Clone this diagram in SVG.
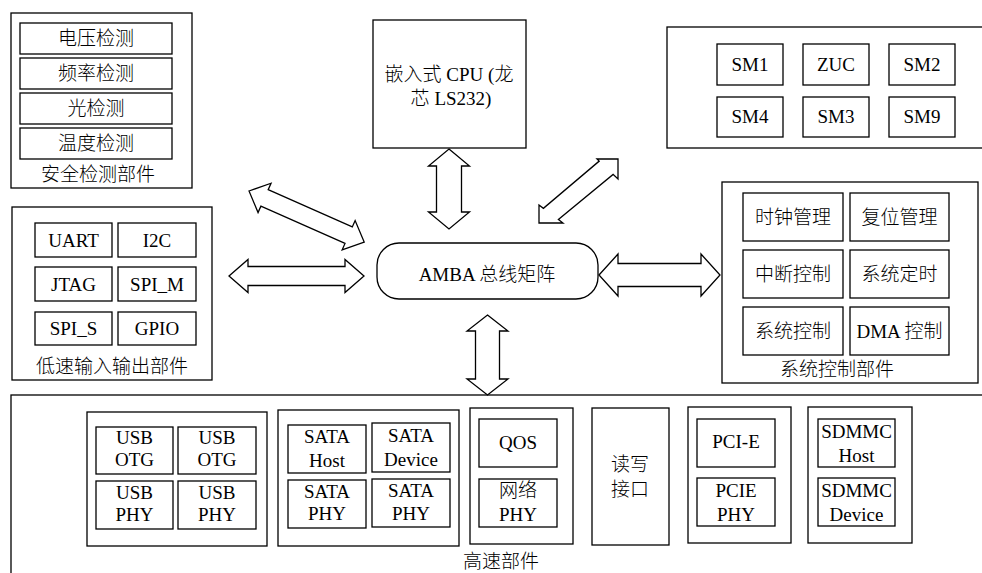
<svg xmlns="http://www.w3.org/2000/svg" width="982" height="573" viewBox="0 0 982 573">
<style>
rect{fill:#fff;stroke:#000;stroke-width:1.3}
text{font-family:"Liberation Serif","Times New Roman","DejaVu Serif",serif;font-size:19px;fill:#000;text-anchor:middle}
.c{font-family:"Noto Sans CJK SC","Noto Sans CJK JP",sans-serif;font-weight:300}
.arr{fill:#fff;stroke:#000;stroke-width:1.3;stroke-linejoin:miter}
</style>
<rect x="0" y="0" width="982" height="573" style="stroke:none"/>
<g id="safety">
<rect x="11" y="13" width="181" height="175"/>
<rect x="20" y="23" width="152" height="31"/><text x="96" y="45" class="c">电压检测</text>
<rect x="20" y="58" width="152" height="31"/><text x="96" y="80" class="c">频率检测</text>
<rect x="20" y="93" width="152" height="31"/><text x="96" y="115" class="c">光检测</text>
<rect x="20" y="128" width="152" height="31"/><text x="96" y="150" class="c">温度检测</text>
<text x="98" y="181" class="c">安全检测部件</text>
</g>
<g id="cpu">
<rect x="373" y="20" width="153" height="128"/>
<text x="449" y="81"><tspan class="c">嵌入式</tspan> CPU (<tspan class="c">龙</tspan><tspan x="451" y="105" class="c">芯</tspan> LS232)</text>
</g>
<g id="crypto">
<rect x="667" y="27" width="330" height="121"/>
<rect x="717" y="44" width="66" height="41"/><text x="750" y="71">SM1</text>
<rect x="803" y="44" width="66" height="41"/><text x="836" y="71">ZUC</text>
<rect x="889" y="44" width="66" height="41"/><text x="922" y="71">SM2</text>
<rect x="717" y="97" width="66" height="40"/><text x="750" y="123">SM4</text>
<rect x="803" y="97" width="66" height="40"/><text x="836" y="123">SM3</text>
<rect x="889" y="97" width="66" height="40"/><text x="922" y="123">SM9</text>
</g>
<g id="lowspeed">
<rect x="12" y="207" width="200" height="173"/>
<rect x="35" y="223" width="77" height="34"/><text x="73.5" y="247">UART</text>
<rect x="118" y="223" width="78" height="34"/><text x="157" y="247">I2C</text>
<rect x="35" y="267" width="77" height="34"/><text x="73.5" y="291">JTAG</text>
<rect x="118" y="267" width="78" height="34"/><text x="157" y="291">SPI_M</text>
<rect x="35" y="312" width="77" height="33"/><text x="73.5" y="335">SPI_S</text>
<rect x="118" y="312" width="78" height="33"/><text x="157" y="335">GPIO</text>
<text x="112" y="373" class="c">低速输入输出部件</text>
</g>
<g id="amba">
<rect x="377" y="243" width="221" height="56" rx="22" ry="22"/>
<text x="487" y="281">AMBA <tspan class="c">总线矩阵</tspan></text>
</g>
<g id="sysctrl">
<rect x="722" y="182" width="256" height="201"/>
<rect x="743" y="193" width="100" height="48"/><text x="793" y="224" class="c">时钟管理</text>
<rect x="850" y="193" width="99" height="48"/><text x="899.5" y="224" class="c">复位管理</text>
<rect x="743" y="250" width="100" height="48"/><text x="793" y="281" class="c">中断控制</text>
<rect x="850" y="250" width="99" height="48"/><text x="899.5" y="281" class="c">系统定时</text>
<rect x="743" y="307" width="100" height="48"/><text x="793" y="338" class="c">系统控制</text>
<rect x="850" y="307" width="99" height="48"/><text x="899.5" y="338">DMA <tspan class="c">控制</tspan></text>
<text x="837" y="376" class="c">系统控制部件</text>
</g>
<g id="highspeed">
<rect x="11" y="395" width="990" height="200"/>
<g id="usb">
<rect x="87" y="412" width="180" height="134"/>
<rect x="96" y="427" width="77" height="47"/><text x="134.5" y="444">USB</text><text x="134.5" y="466">OTG</text>
<rect x="178" y="427" width="78" height="47"/><text x="217" y="444">USB</text><text x="217" y="466">OTG</text>
<rect x="96" y="481" width="77" height="48"/><text x="134.5" y="499">USB</text><text x="134.5" y="521">PHY</text>
<rect x="178" y="481" width="78" height="48"/><text x="217" y="499">USB</text><text x="217" y="521">PHY</text>
</g>
<g id="sata">
<rect x="278" y="410" width="181" height="136"/>
<rect x="288" y="425" width="78" height="48"/><text x="327" y="443">SATA</text><text x="327" y="467">Host</text>
<rect x="372" y="423" width="78" height="49"/><text x="411" y="442">SATA</text><text x="411" y="466">Device</text>
<rect x="288" y="480" width="78" height="48"/><text x="327" y="498">SATA</text><text x="327" y="520">PHY</text>
<rect x="372" y="479" width="78" height="48"/><text x="411" y="497">SATA</text><text x="411" y="520">PHY</text>
</g>
<g id="qos">
<rect x="470" y="408" width="103" height="136"/>
<rect x="479" y="419" width="78" height="48"/><text x="518" y="449">QOS</text>
<rect x="479" y="479" width="78" height="48"/><text x="518" y="497" class="c">网络</text><text x="518" y="521">PHY</text>
</g>
<g id="rw">
<rect x="592" y="408" width="77" height="137"/>
<text x="630" y="471" class="c">读写</text><text x="630" y="496" class="c">接口</text>
</g>
<g id="pcie">
<rect x="688" y="407" width="103" height="136"/>
<rect x="697" y="419" width="78" height="48"/><text x="736" y="448">PCI-E</text>
<rect x="697" y="478" width="78" height="48"/><text x="736" y="497">PCIE</text><text x="736" y="521">PHY</text>
</g>
<g id="sdmmc">
<rect x="808" y="407" width="104" height="136"/>
<rect x="818" y="419" width="77" height="48"/><text x="856.5" y="438">SDMMC</text><text x="856.5" y="462">Host</text>
<rect x="818" y="478" width="77" height="48"/><text x="856.5" y="497">SDMMC</text><text x="856.5" y="521">Device</text>
</g>
<text x="463" y="568" class="c" style="text-anchor:start">高速部件</text>
</g>
<g id="connectors">
<polygon class="arr" transform="translate(229,276)" points="0,0 19,-16.5 19,-9.5 116,-9.5 116,-16.5 135,0 116,16.5 116,9.5 19,9.5 19,16.5"/>
<polygon class="arr" transform="translate(599,275)" points="0,0 19,-21 19,-11.5 102,-11.5 102,-21 121,0 102,21 102,11.5 19,11.5 19,21"/>
<polygon class="arr" transform="translate(449,149) rotate(90)" points="0,0 17,-20.5 17,-12.5 63,-12.5 63,-20.5 80,0 63,20.5 63,12.5 17,12.5 17,20.5"/>
<polygon class="arr" transform="translate(487.5,315) rotate(90)" points="0,0 16,-20.5 16,-12 64,-12 64,-20.5 80,0 64,20.5 64,12 16,12 16,20.5"/>
<polygon class="arr" transform="translate(249,191) rotate(23.9)" points="0,0 17,-16 17,-9 109,-9 109,-16 126,0 109,16 109,9 17,9 17,16"/>
<polygon class="arr" points="539,223 539,205 543.4,208.3 599.2,161.1 597,159 618,159 618,179 613.1,174.4 558.4,219.5 563,223"/>
</g>
</svg>
